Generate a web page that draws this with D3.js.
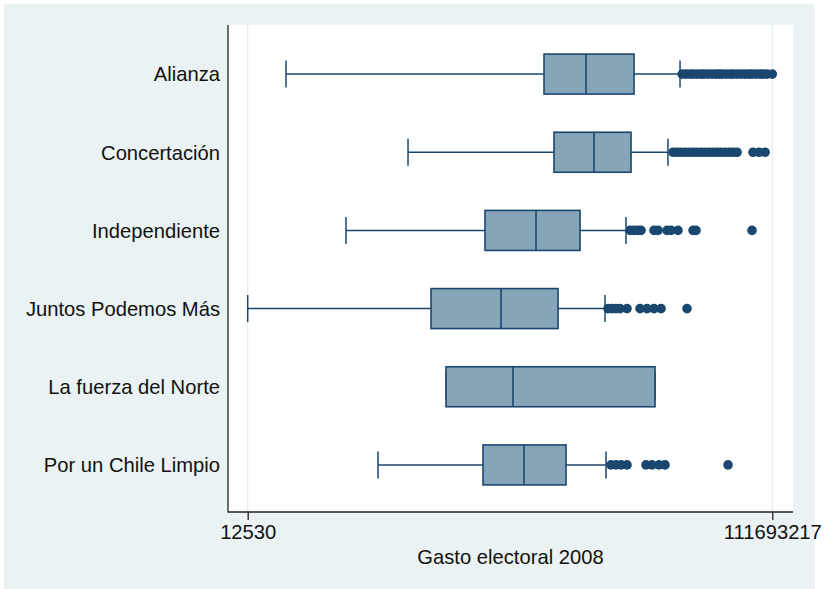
<!DOCTYPE html>
<html>
<head>
<meta charset="utf-8">
<script src="https://cdn.jsdelivr.net/npm/d3@7"></script>
<style>
  html, body { margin: 0; padding: 0; background: #ffffff; }
  svg { display: block; }
  text { font-family: "Liberation Sans", Arial, sans-serif; fill: #111; }
</style>
</head>
<body>
<svg id="chart" width="824" height="589"></svg>
<script>
// ---- Data (log-scaled spending) ----
const categories = ["Alianza", "Concertación", "Independiente", "Juntos Podemos Más", "La fuerza del Norte", "Por un Chile Limpio"];
const whiskerLow  = [24350, 201900, 68890, 12530, 390200, 120000];
const q1          = [2134000, 2537000, 767000, 300800, 390200, 740800];
const medians     = [4420000, 5077000, 1857000, 1012000, 1246000, 1508000];
const q3          = [10160000, 9645000, 3984000, 2720000, 14620000, 3124000];
const whiskerHigh = [22560000, 18300000, 8844000, 6143000, 14620000, 6252000];
const outliers = [
  [23400000, 25000000, 26800000, 28300000, 30300000, 32500000, 34200000, 36700000, 39300000, 42100000, 44400000, 46700000, 50100000, 53700000, 56500000, 60600000, 64900000, 69600000, 74600000, 78600000, 84200000, 90300000, 95100000, 101900000, 111693217],
  [20000000, 21400000, 22950000, 24600000, 26400000, 28300000, 30300000, 32500000, 34800000, 37300000, 40000000, 42800000, 45900000, 49200000, 52800000, 56500000, 60600000, 80000000, 88700000, 98500000],
  [9478000, 10160000, 10890000, 11470000, 14370000, 15400000, 18000000, 19290000, 21780000, 28270000, 29770000, 78600000],
  [6473000, 6937000, 7435000, 7969000, 8998000, 11270000, 12730000, 14370000, 16230000, 25460000],
  [],
  [6819000, 7435000, 8109000, 8998000, 12510000, 13880000, 15670000, 17390000, 51850000]
];
const tickValues = [12530, 111693217];
const axisTitle = "Gasto electoral 2008";

const rows = categories.map((c, i) => ({
  cat: c, lo: whiskerLow[i], q1: q1[i], med: medians[i], q3: q3[i], hi: whiskerHigh[i], out: outliers[i]
}));

// ---- Layout ----
const svg = d3.select("#chart");
const outer = { x: 4, y: 4, w: 811, h: 585 };
const plot = { left: 228, right: 793, top: 25, bottom: 512 };

const bg = "#eaf2f3";
const navy = "#1a476f";
const boxFill = "#87a5b9";
const fs = 20.2;

svg.append("rect").attr("x", outer.x).attr("y", outer.y).attr("width", outer.w).attr("height", outer.h).attr("fill", bg);
svg.append("rect").attr("x", plot.left).attr("y", plot.top)
  .attr("width", plot.right - plot.left).attr("height", plot.bottom - plot.top).attr("fill", "#ffffff");

const x = d3.scaleLog().domain([12530, 111693217]).range([247.7, 772.3]);
const y = d3.scaleBand().domain(categories).range([35, 504]).padding(0);

// gridlines at tick values
svg.append("g").selectAll("line").data(tickValues).join("line")
  .attr("x1", d => x(d)).attr("x2", d => x(d))
  .attr("y1", plot.top).attr("y2", plot.bottom)
  .attr("stroke", "#e3eef0").attr("stroke-width", 1.2);

// boxes
const boxH = 40, capH = 27;
const g = svg.append("g");
const rg = g.selectAll("g.row").data(rows).join("g").attr("class", "row")
  .attr("transform", d => `translate(0,${y(d.cat) + y.bandwidth() / 2})`);

// whisker lines
rg.append("line").attr("x1", d => x(d.lo)).attr("x2", d => x(d.q1)).attr("y1", 0).attr("y2", 0)
  .attr("stroke", navy).attr("stroke-width", 1.5);
rg.append("line").attr("x1", d => x(d.q3)).attr("x2", d => x(d.hi)).attr("y1", 0).attr("y2", 0)
  .attr("stroke", navy).attr("stroke-width", 1.5);
// caps
rg.append("line").attr("x1", d => x(d.lo)).attr("x2", d => x(d.lo)).attr("y1", -capH / 2).attr("y2", capH / 2)
  .attr("stroke", navy).attr("stroke-width", 1.5);
rg.append("line").attr("x1", d => x(d.hi)).attr("x2", d => x(d.hi)).attr("y1", -capH / 2).attr("y2", capH / 2)
  .attr("stroke", navy).attr("stroke-width", 1.5);
// box
rg.append("rect").attr("x", d => x(d.q1)).attr("y", -boxH / 2)
  .attr("width", d => x(d.q3) - x(d.q1)).attr("height", boxH)
  .attr("fill", boxFill).attr("stroke", navy).attr("stroke-width", 1.6);
// median
rg.append("line").attr("x1", d => x(d.med)).attr("x2", d => x(d.med)).attr("y1", -boxH / 2).attr("y2", boxH / 2)
  .attr("stroke", navy).attr("stroke-width", 1.6);
// outliers
rg.selectAll("circle").data(d => d.out).join("circle")
  .attr("cx", d => x(d)).attr("cy", 0).attr("r", 4.8).attr("fill", navy);

// left axis line
svg.append("line").attr("x1", plot.left).attr("x2", plot.left).attr("y1", plot.top).attr("y2", plot.bottom + 0.5)
  .attr("stroke", "#222").attr("stroke-width", 1.3);
// category labels
svg.append("g").selectAll("text").data(categories).join("text")
  .attr("x", 220).attr("y", d => y(d) + y.bandwidth() / 2)
  .attr("dy", "0.36em").attr("text-anchor", "end").attr("font-size", fs)
  .text(d => d);

// bottom axis
const xAxis = d3.axisBottom(x).tickValues(tickValues).tickFormat(d3.format("d")).tickSize(8).tickPadding(5);
const ax = svg.append("g").attr("transform", `translate(0,${plot.bottom})`).call(xAxis);
ax.select(".domain").remove();
ax.selectAll(".tick line").attr("stroke", "#222").attr("stroke-width", 1.3);
ax.selectAll(".tick text").attr("font-size", fs).attr("fill", "#111")
  .attr("font-family", "Liberation Sans, Arial, sans-serif");
svg.append("line").attr("x1", plot.left).attr("x2", plot.right).attr("y1", plot.bottom).attr("y2", plot.bottom)
  .attr("stroke", "#222").attr("stroke-width", 1.3);

svg.append("text").attr("x", (plot.left + plot.right) / 2).attr("y", 564)
  .attr("text-anchor", "middle").attr("font-size", fs).text(axisTitle);
</script>
</body>
</html>
